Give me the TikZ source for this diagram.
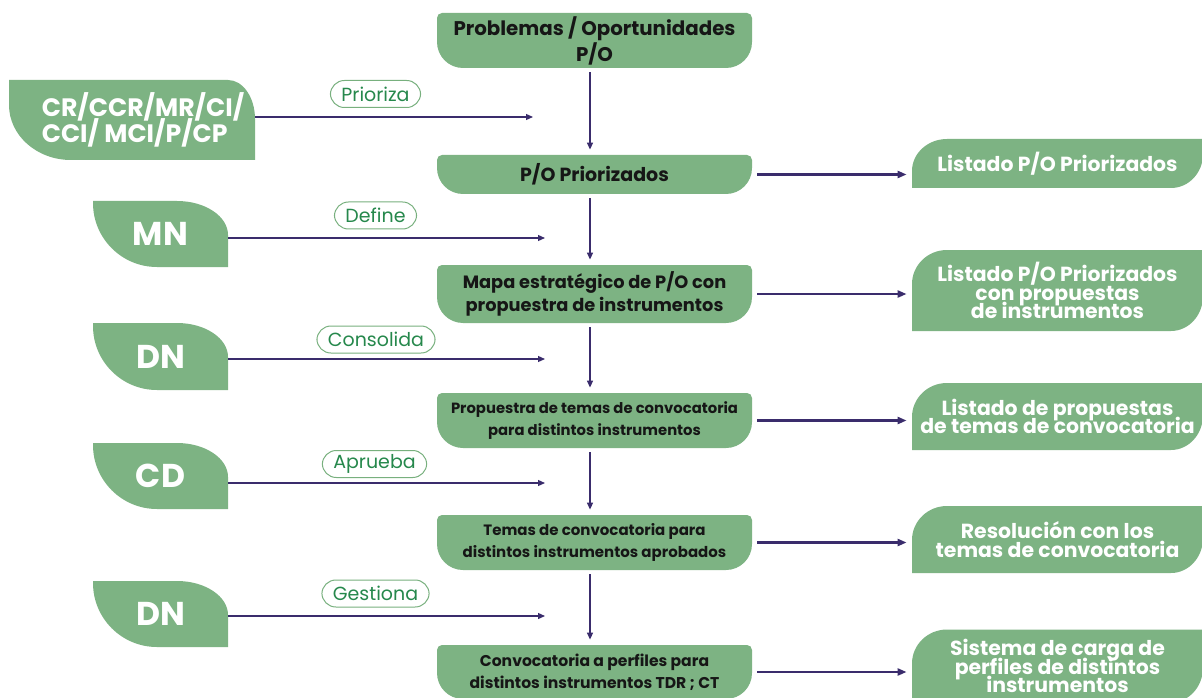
\documentclass[tikz,border=0pt]{standalone}
\usepackage{fontspec}
\setmainfont{Poppins}
\usetikzlibrary{arrows.meta,positioning,calc}
\definecolor{leafgreen}{RGB}{125,179,131}
\definecolor{pillgreen}{RGB}{38,136,76}
\definecolor{pillline}{RGB}{120,176,126}
\definecolor{arrowblue}{RGB}{58,44,108}
\definecolor{textdark}{RGB}{22,22,22}

% fondo verde de las etapas centrales
\newcommand{\stagefill}{%
  \fill[leafgreen] ([yshift=-2.5pt]path picture bounding box.north west)
    arc[start angle=180, end angle=90, radius=2.5pt]
    -- ([xshift=-2.5pt]path picture bounding box.north east)
    arc[start angle=90, end angle=0, radius=2.5pt]
    -- ([yshift=13pt]path picture bounding box.south east)
    arc[start angle=0, end angle=-90, radius=13pt]
    -- ([xshift=13pt]path picture bounding box.south west)
    arc[start angle=270, end angle=180, radius=13pt] -- cycle;}
% hoja izquierda: esquinas sup. derecha e inf. izquierda curvas
\newcommand{\leafleftfill}[4]{%
  \fill[leafgreen] (path picture bounding box.north west)
    -- ([xshift=-#1]path picture bounding box.north east)
    arc[start angle=90, end angle=0, x radius=#1, y radius=#2]
    -- (path picture bounding box.south east)
    -- ([xshift=#3]path picture bounding box.south west)
    arc[start angle=270, end angle=180, x radius=#3, y radius=#4] -- cycle;}
% hoja derecha: esquinas sup. izquierda e inf. derecha curvas
\newcommand{\leafrightfill}[4]{%
  \fill[leafgreen] ([yshift=-#2]path picture bounding box.north west)
    arc[start angle=180, end angle=90, x radius=#1, y radius=#2]
    -- (path picture bounding box.north east)
    -- ([yshift=#4]path picture bounding box.south east)
    arc[start angle=0, end angle=-90, x radius=#3, y radius=#4]
    -- (path picture bounding box.south west) -- cycle;}
\newcommand{\tightlines}{\lineskiplimit=-20pt\lineskip=0pt}

\begin{document}
\begin{tikzpicture}[x=0.5pt, y=0.5pt,
    stagebox/.style={fill=white, inner sep=0pt, minimum width=157.5pt, align=center,
      text=textdark, path picture={\stagefill}},
    leafL/.style n args={4}{fill=white, inner sep=0pt, align=center, text=white,
      path picture={\leafleftfill{#1}{#2}{#3}{#4}}},
    leafR/.style n args={4}{fill=white, inner sep=0pt, align=center, text=white,
      minimum width=145.5pt, font=\bfseries\fontsize{10.2}{9.4}\selectfont\tightlines,
      path picture={\leafrightfill{#1}{#2}{#3}{#4}}},
    pill/.style={draw=pillline, line width=0.5pt, rounded corners=7pt, fill=white,
      minimum height=13.5pt, inner xsep=5.5pt, inner ysep=0pt, text=pillgreen,
      font=\fontsize{9.5}{10}\selectfont},
    flow/.style={draw=arrowblue, line width=0.65pt, -{Triangle[length=3.5pt,width=3pt]}},
    inflow/.style={draw=arrowblue, line width=0.6pt, -{Triangle[length=3.5pt,width=3pt]}},
    outflow/.style={draw=arrowblue, line width=1.2pt, -{Triangle[length=4.5pt,width=3.5pt]}}]
  \useasboundingbox (0,0) rectangle (1202,697);
  \clip (0,0) rectangle (1202,697);

  % etapas centrales
  \node[stagebox, minimum height=27.5pt, font=\bfseries\fontsize{9.9}{11}\selectfont] (prob) at (594.5,656.5) {Problemas / Oportunidades\\P/O};
  \node[stagebox, minimum height=19.5pt, font=\bfseries\fontsize{9.5}{11}\selectfont] (prio) at (594.5,522.5) {P/O Priorizados};
  \node[stagebox, minimum height=29pt, font=\bfseries\fontsize{8.9}{11.5}\selectfont] (mapa) at (594.5,403) {Mapa estratégico de P/O con\\propuestra de instrumentos};
  \node[stagebox, minimum height=27.5pt, font=\bfseries\fontsize{7.4}{11}\selectfont] (prop) at (594.5,276.5) {Propuestra de temas de convocatoria\\para distintos instrumentos};
  \node[stagebox, minimum height=27.5pt, font=\bfseries\fontsize{7.5}{11}\selectfont] (temas) at (594.5,154.5) {Temas de convocatoria para\\distintos instrumentos aprobados};
  \node[stagebox, minimum height=27pt, font=\bfseries\fontsize{7.8}{11}\selectfont] (conv) at (594.5,25) {Convocatoria a perfiles para\\distintos instrumentos TDR ; CT};

  % actores
  \node[leafL={13.5pt}{19.5pt}{31pt}{27.5pt}, minimum width=123pt, minimum height=40pt, align=left,
    font=\bfseries\fontsize{12.6}{13}\selectfont\tightlines] (cr) at (132,577)
    {\hspace*{11pt}CR/CCR/MR/CI/\\\hspace*{11pt}CCI/ MCI/P/CP};
  \node[leafL={25.5pt}{17pt}{32pt}{32pt}, minimum width=67.5pt, minimum height=33pt,
    font=\bfseries\fontsize{16.5}{16}\selectfont] (mn) at (160.5,463) {MN};
  \node[leafL={25.5pt}{17pt}{32pt}{32pt}, minimum width=67.5pt, minimum height=33.5pt,
    font=\bfseries\fontsize{16.5}{16}\selectfont] (dn1) at (160.5,340.5) {DN};
  \node[leafL={25.5pt}{17pt}{32pt}{32pt}, minimum width=67.5pt, minimum height=33pt,
    font=\bfseries\fontsize{16.5}{16}\selectfont] (cd) at (160.5,221) {CD};
  \node[leafL={25.5pt}{17pt}{32pt}{32pt}, minimum width=67.5pt, minimum height=33pt,
    font=\bfseries\fontsize{16.5}{16}\selectfont] (dn2) at (160.5,83) {DN};

  % productos
  \node[leafR={17.5pt}{16pt}{16pt}{17pt}, minimum height=24.5pt] (lst1) at (1057.5,533.5) {Listado P/O Priorizados};
  \node[leafR={17.5pt}{17pt}{16pt}{17.5pt}, minimum height=40.5pt] (lst2) at (1057.5,406.5) {Listado P/O Priorizados\\con propuestas\\de instrumentos};
  \node[leafR={17.5pt}{17pt}{16pt}{17.5pt}, minimum height=33.5pt] (lst3) at (1057.5,280.5) {Listado de propuestas\\de temas de convocatoria};
  \node[leafR={17.5pt}{17pt}{16pt}{17.5pt}, minimum height=33.5pt] (lst4) at (1057.5,157.5) {Resolución con los\\temas de convocatoria};
  \node[leafR={17.5pt}{17pt}{16pt}{17.5pt}, minimum height=36.5pt] (lst5) at (1057.5,31) {Sistema de carga de\\perfiles de distintos\\instrumentos};

  % acciones
  \node[pill] (prioriza) at (375.5,603) {Prioriza};
  \node[pill] (define) at (375.5,481.5) {Define};
  \node[pill] (consolida) at (376,357.5) {Consolida};
  \node[pill] (aprueba) at (374.5,233) {Aprueba};
  \node[pill] (gestiona) at (375.5,103.5) {Gestiona};

  % flechas
  \foreach \a/\b in {prob/prio, prio/mapa, mapa/prop, prop/temas, temas/conv}
    \draw[flow] ([xshift=-2.25pt, yshift=-2pt]\a.south) -- ([xshift=-2.25pt, yshift=2.5pt]\b.north);
  \foreach \a/\b in {prio/lst1, mapa/lst2, prop/lst3, temas/lst4, conv/lst5}
    \draw[outflow, shorten >=2.5pt] ([xshift=2.5pt]\a.east) -- (\a.east -| \b.west);
  \foreach \n/\y/\xe in {cr/580/533, mn/459/545, dn1/338/545, cd/214/545, dn2/81/545} {
    \coordinate (end-\n) at (\xe,\y);
    \draw[inflow] (\n.east |- end-\n) -- (end-\n);
  }
\end{tikzpicture}
\end{document}
